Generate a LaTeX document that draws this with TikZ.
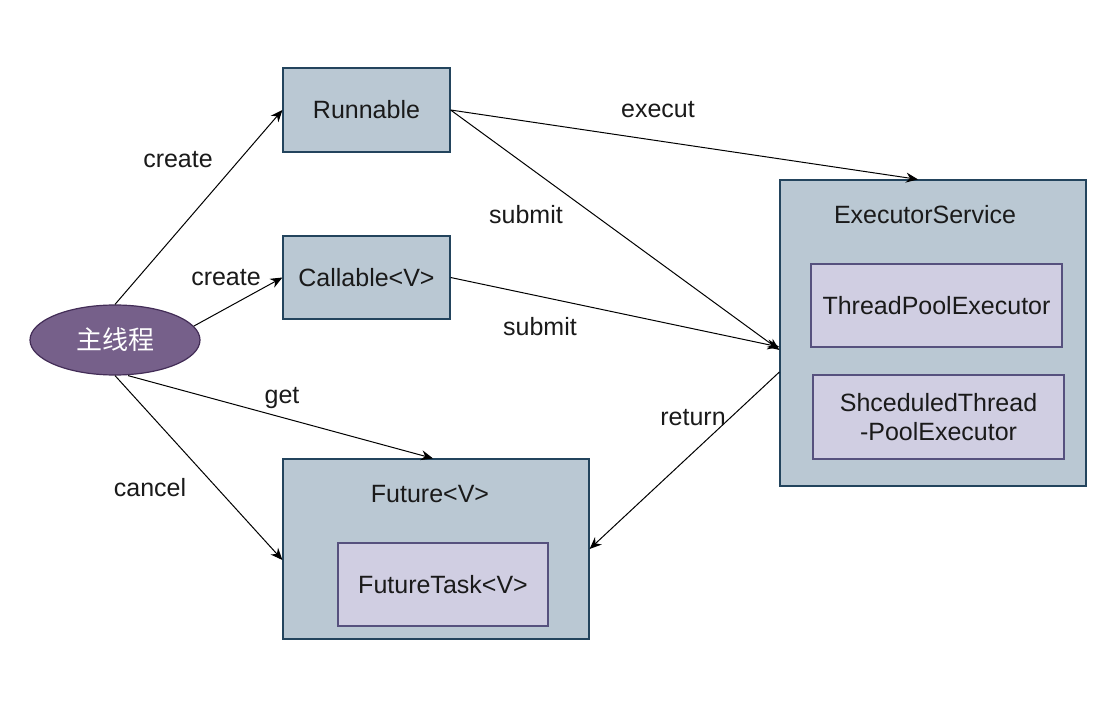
\documentclass[tikz,border=0pt]{standalone}
\usepackage{fontspec}
\setmainfont{Liberation Sans}
\newfontfamily\cjk{Noto Sans CJK SC}
\usetikzlibrary{shapes.geometric,arrows.meta,calc}
\definecolor{boxfill}{HTML}{BAC8D3}
\definecolor{boxline}{HTML}{23445D}
\definecolor{infill}{HTML}{D0CEE2}
\definecolor{inline}{HTML}{56517E}
\definecolor{elfill}{HTML}{76608A}
\definecolor{elline}{HTML}{432D57}
\definecolor{txt}{HTML}{1A1A1A}
\begin{document}
\begin{tikzpicture}[x=1pt,y=-1pt,
  every node/.style={font=\fontsize{25}{29}\selectfont, text=txt},
  outerbox/.style={draw=boxline, fill=boxfill, line width=1.2pt, rectangle, inner sep=0pt},
  innerbox/.style={draw=inline, fill=infill, line width=1.2pt, rectangle, inner sep=0pt, align=center},
  conn/.style={draw=black, line width=1pt, -{Stealth[length=12pt,width=10pt]}},
  lbl/.style={inner sep=0pt}
]
\useasboundingbox (0,0) rectangle (1110,708);
\fill[white] (0,0) rectangle (1110,708);

\node[outerbox, minimum width=167pt, minimum height=84pt] (run) at (366.5,110) {Runnable};
\node[outerbox, minimum width=167pt, minimum height=83pt] (call) at (366.5,277.5) {Callable<V>};
\node[outerbox, minimum width=306pt, minimum height=180pt] (fut) at (436,549) {};
\node[lbl] (futlbl) at (430,494) {Future<V>};
\node[innerbox, minimum width=210pt, minimum height=83pt] (ftask) at (443,584.5) {FutureTask<V>};
\node[outerbox, minimum width=306pt, minimum height=306pt] (exec) at (933,333) {};
\node[lbl] (execlbl) at (925,215) {ExecutorService};
\node[innerbox, minimum width=251pt, minimum height=83pt] (tpe) at (936.5,305.5) {ThreadPoolExecutor};
\node[innerbox, minimum width=251pt, minimum height=84pt] (stpe) at (938.5,417) {ShceduledThread\\-PoolExecutor};
\node[ellipse, draw=elline, fill=elfill, line width=1.2pt, minimum width=170pt, minimum height=70pt, inner sep=0pt] (main) at (115,340) {\cjk\color{white}\fontsize{26}{30}\selectfont 主线程};

\draw[conn] (main.north) -- (run.west);
\draw[conn] (main.10) -- (call.west);
\draw[conn] ([xshift=13pt]main.south) -- ([xshift=-3pt]fut.north);
\draw[conn] (main.south) -- ([yshift=-11pt]fut.west);
\draw[conn] (run.east) -- ([xshift=-15pt]exec.north);
\draw[conn] (run.east) -- ([yshift=-17pt]exec.west);
\draw[conn] (call.east) -- ([yshift=-14pt]exec.west);
\draw[conn] ([yshift=-39pt]exec.west) -- (fut.east);

\node[lbl] (l1) at (178,160) {create};
\node[lbl] (l2) at (226,278) {create};
\node[lbl] (l3) at (282,398) {get};
\node[lbl] (l4) at (150,488) {cancel};
\node[lbl] (l5) at (658,110) {execut};
\node[lbl] (l6) at (526,215) {submit};
\node[lbl] (l7) at (540,327) {submit};
\node[lbl] (l8) at (693,418) {return};
\end{tikzpicture}
\end{document}
